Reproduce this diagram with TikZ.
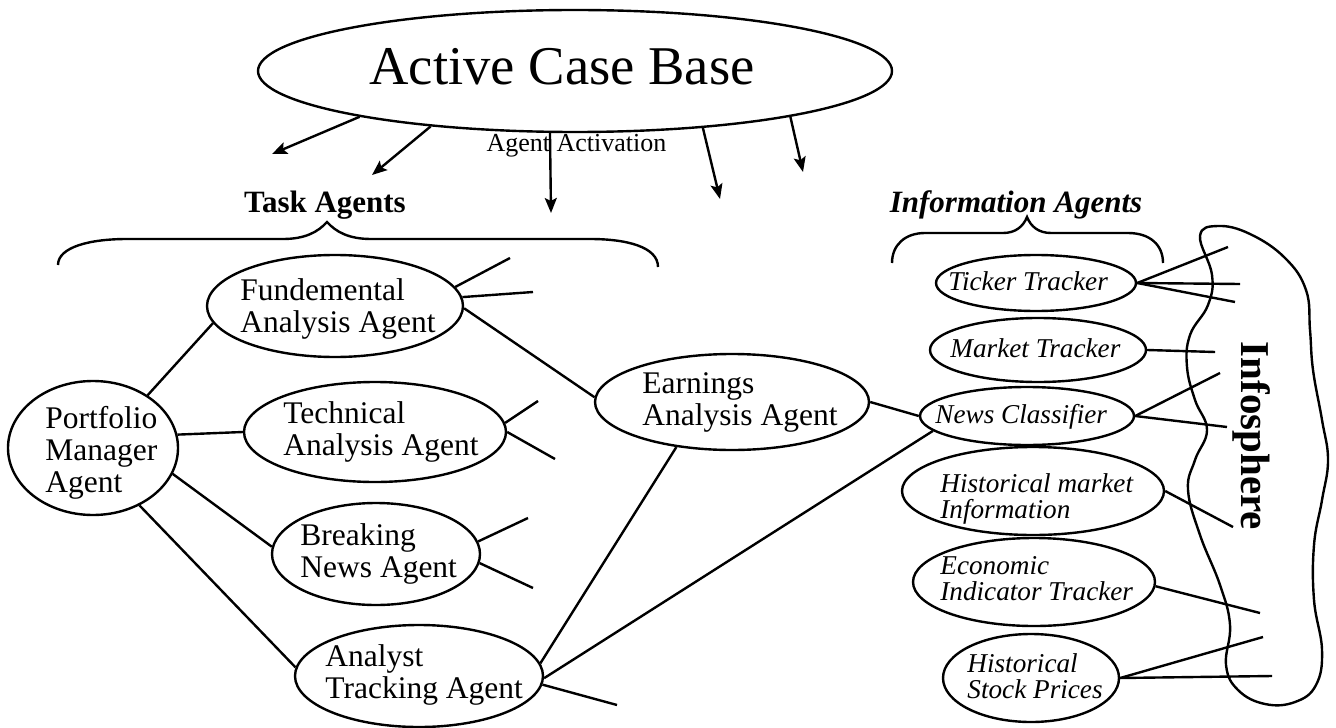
\documentclass[tikz,border=0pt]{standalone}
\usepackage{fontspec}
\setmainfont{Liberation Serif}
\usetikzlibrary{shapes.geometric,arrows.meta}
\begin{document}
\begin{tikzpicture}[x=0.5pt,y=-0.5pt,
  ell/.style={draw, ellipse, line width=1.2pt, inner sep=0pt},
  agtext/.style={anchor=base west, align=left, inner sep=0pt, font=\fontsize{15.75}{16}\selectfont},
  infotext/.style={anchor=base west, align=left, inner sep=0pt, font=\fontsize{13.6}{13}\selectfont\itshape},
  conn/.style={line width=1.2pt},
  act/.style={line width=1.2pt, -{Stealth[length=7.5pt,width=6pt,inset=1.5pt]}},
  brace/.style={line width=1.2pt}]
\useasboundingbox (0,0) rectangle (1336,727);

% Active case base
\node[ell, minimum width=317pt, minimum height=61pt] (acb) at (575,71) {};
\node[anchor=base, inner sep=0pt, font=\fontsize{27.3}{30}\selectfont] (acbT) at (562,85) {Active Case Base};

% activation arrows
\coordinate (a1) at (272,154);
\coordinate (a2) at (372,175);
\coordinate (a3) at (551,213);
\coordinate (a4) at (720,199);
\coordinate (a5) at (803,172);
\draw[act] (acb.192) -- (a1);
\draw[act] (acb.201) -- (a2);
\draw[act] (acb.248) -- (a3);
\draw[act] (acb.336) -- (a4);
\draw[act] (acb.348) -- (a5);
\node[anchor=base, inner sep=0pt, font=\fontsize{13}{15}\selectfont] (actT) at (576.5,152) {Agent Activation};

% headings
\node[anchor=base, inner sep=0pt, font=\fontsize{15.5}{18}\selectfont\bfseries] (taskT) at (325,213) {Task Agents};
\node[anchor=base, inner sep=0pt, font=\fontsize{15.5}{18}\selectfont\bfseries\itshape] (infoT) at (1016,213) {Information Agents};

% braces
\draw[brace] (58,265) .. controls (58,247) and (90,239) .. (127,239) -- (283,239)
  .. controls (305,239) and (318,232) .. (327,222)
  .. controls (336,232) and (349,239) .. (371,239) -- (590,239)
  .. controls (627,239) and (658,247) .. (658,267);
\draw[brace] (892,263) .. controls (892,245) and (905,233) .. (925,233) -- (1003,233)
  .. controls (1015,233) and (1023,227) .. (1027,217)
  .. controls (1031,227) and (1039,233) .. (1051,233) -- (1128,233)
  .. controls (1150,233) and (1163,245) .. (1163,263);

% task agents (base anchor = baseline of the last line)
\node[ell, minimum width=85pt, minimum height=67pt] (port) at (93,448) {};
\node[agtext] (portT) at (45,492) {Portfolio\\Manager\\Agent};
\node[ell, minimum width=128pt, minimum height=51pt] (fund) at (335,306) {};
\node[agtext] (fundT) at (240,332) {Fundemental\\Analysis Agent};
\node[ell, minimum width=131pt, minimum height=50pt] (tech) at (375,432) {};
\node[agtext] (techT) at (283,455) {Technical\\Analysis Agent};
\node[ell, minimum width=104pt, minimum height=51pt] (brk) at (376,554) {};
\node[agtext] (brkT) at (300,577) {Breaking\\News Agent};
\node[ell, minimum width=124pt, minimum height=51pt] (anl) at (419,676) {};
\node[agtext] (anlT) at (325,698) {Analyst\\Tracking Agent};
\node[ell, minimum width=137pt, minimum height=48pt] (earn) at (732,402) {};
\node[agtext] (earnT) at (642,425) {Earnings\\Analysis Agent};

% information agents
\node[ell, minimum width=100pt, minimum height=28pt] (tick) at (1036,283) {};
\node[infotext] (tickT) at (948,290) {Ticker Tracker};
\node[ell, minimum width=108pt, minimum height=32pt] (mkt) at (1038,350) {};
\node[infotext] (mktT) at (950,357) {Market Tracker};
\node[ell, minimum width=107pt, minimum height=29pt] (news) at (1027,416) {};
\node[infotext] (newsT) at (935,423) {News Classifier};
\node[ell, minimum width=131pt, minimum height=44pt] (hmi) at (1033,491) {};
\node[infotext] (hmiT) at (940,518) {Historical market\\Information};
\node[ell, minimum width=121pt, minimum height=44pt] (eco) at (1034,582) {};
\node[infotext] (ecoT) at (940,600) {Economic\\Indicator Tracker};
\node[ell, minimum width=88pt, minimum height=44pt] (hsp) at (1031,678) {};
\node[infotext] (hspT) at (967,698) {Historical\\Stock Prices};

% connections between task agents
\draw[conn] (port.44) -- (fund.188);
\draw[conn] (port.9) -- (tech.180);
\draw[conn] (port.342) -- (brk.176);
\draw[conn] (port.309) -- (anl.176);
\draw[conn] (fund.359) -- (earn.178);
\draw[conn] (anl.6) -- (earn.219);
\draw[conn] (anl.359) -- (news.189);
\draw[conn] (earn.0) -- (news.180);

% stubs
\coordinate (f1) at (510,258);
\coordinate (f2) at (533,292);
\coordinate (t1) at (538,401);
\coordinate (t2) at (555,459);
\coordinate (b1) at (528,518);
\coordinate (b2) at (533,588);
\coordinate (s1) at (617,705);
\draw[conn] (fund.9) -- (f1);
\draw[conn] (fund.4) -- (f2);
\draw[conn] (tech.4) -- (t1);
\draw[conn] (tech.0) -- (t2);
\draw[conn] (brk.7) -- (b1);
\draw[conn] (brk.355) -- (b2);
\draw[conn] (anl.356) -- (s1);

% infosphere links
\coordinate (i1) at (1228,247);
\coordinate (i2) at (1240,284);
\coordinate (i3) at (1235,302);
\coordinate (i4) at (1215,352);
\coordinate (i5) at (1220,373);
\coordinate (i6) at (1227,427);
\coordinate (i7) at (1233,527);
\coordinate (i8) at (1260,613);
\coordinate (i9) at (1263,637);
\coordinate (i10) at (1272,676);
\draw[conn] (tick.east) -- (i1);
\draw[conn] (tick.east) -- (i2);
\draw[conn] (tick.east) -- (i3);
\draw[conn] (mkt.east) -- (i4);
\draw[conn] (news.east) -- (i5);
\draw[conn] (news.east) -- (i6);
\draw[conn] (hmi.east) -- (i7);
\draw[conn] (eco.358) -- (i8);
\draw[conn] (hsp.east) -- (i9);
\draw[conn] (hsp.east) -- (i10);

% infosphere blob
\draw[conn] plot[smooth cycle, tension=0.7] coordinates {
  (1200,236) (1218,226) (1250,234) (1285,258) (1306,290) (1310,330) (1313,370)
  (1322,420) (1328,460) (1322,500) (1314,545) (1314,600) (1322,650) (1316,685)
  (1295,702) (1265,704) (1238,690) (1226,665) (1230,625) (1220,585) (1200,535)
  (1188,490) (1195,460) (1207,430) (1195,400) (1187,367) (1190,335) (1208,305)
  (1212,275)};
\node[rotate=-90, inner sep=0pt, font=\fontsize{20.5}{24}\selectfont\bfseries] (info) at (1252,436) {Infosphere};
\end{tikzpicture}
\end{document}
